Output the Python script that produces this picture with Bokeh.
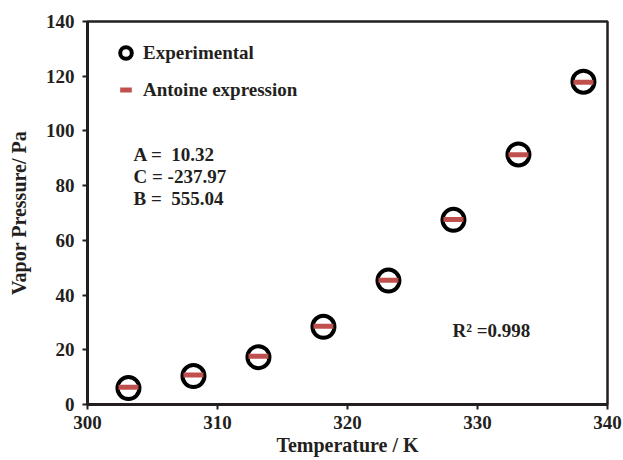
from bokeh.plotting import figure
from bokeh.models import Range1d, FixedTicker, Legend, LegendItem, Label
from bokeh.embed import file_html
from bokeh.resources import INLINE

temperature = [303.15, 308.15, 313.15, 318.15, 323.15, 328.15, 333.15, 338.15]
p_experimental = [6.0, 10.4, 17.3, 28.4, 45.3, 67.5, 91.4, 118.0]
p_antoine = [6.3, 10.8, 17.6, 28.6, 45.4, 67.6, 91.3, 117.8]
x_ticks = [300, 310, 320, 330, 340]
y_ticks = [0, 20, 40, 60, 80, 100, 120, 140]
params = ["A =\u00a0 10.32", "C = -237.97", "B =\u00a0 555.04"]
r2_text = "R\u00b2 =0.998"

FONT = "Liberation Serif"
INK = "#231f20"
RED = "#c0504d"

p = figure(width=623, height=460, output_backend="svg", toolbar_location=None,
           x_range=Range1d(300, 340), y_range=Range1d(0, 140),
           min_border_left=87, min_border_right=16, min_border_top=21, min_border_bottom=56)
p.background_fill_color = "white"
p.border_fill_color = "white"
p.grid.visible = False
p.outline_line_color = INK
p.outline_line_width = 2.5

for ax, ticks in ((p.xaxis, x_ticks), (p.yaxis, y_ticks)):
    ax.ticker = FixedTicker(ticks=ticks)
    ax.axis_line_width = 3
    ax.axis_line_color = INK
    ax.major_tick_line_width = 2
    ax.major_tick_line_color = INK
    ax.major_tick_out = 5
    ax.major_tick_in = 0
    ax.minor_tick_line_color = None
    ax.major_label_text_font = FONT
    ax.major_label_text_font_style = "bold"
    ax.major_label_text_font_size = "19px"
    ax.major_label_text_color = INK
    ax.axis_label_text_font = FONT
    ax.axis_label_text_font_style = "bold"
    ax.axis_label_text_font_size = "20px"
    ax.axis_label_text_color = INK

p.xaxis.axis_label = "Temperature / K"
p.yaxis.axis_label = "Vapor Pressure/ Pa"
p.xaxis.major_label_standoff = 6
p.yaxis.major_label_standoff = 8
p.xaxis.axis_label_standoff = 2
p.yaxis.axis_label_standoff = 13

r_exp = p.scatter(temperature, p_experimental, marker="circle", size=22,
                  fill_color="white", line_color="black", line_width=4)
r_ant = p.scatter(temperature, p_antoine, marker="dash", size=20,
                  line_color=RED, line_width=5)

legend = Legend(items=[LegendItem(label="Experimental", renderers=[r_exp]),
                       LegendItem(label="Antoine expression", renderers=[r_ant])],
                location=(24, 300))
legend.border_line_color = None
legend.background_fill_alpha = 0
legend.margin = 0
legend.padding = 0
legend.label_text_font = FONT
legend.label_text_font_style = "bold"
legend.label_text_font_size = "19px"
legend.label_text_color = INK
legend.glyph_width = 29
legend.glyph_height = 29
legend.spacing = 8
legend.label_standoff = 3
legend.label_height = 20
p.add_layout(legend, "center")

for i, t in enumerate(params):
    p.add_layout(Label(x=46, y=250 - 22 * i, x_units="screen", y_units="screen", text=t,
                       text_font=FONT, text_font_style="bold", text_font_size="19px",
                       text_color=INK, text_baseline="middle"))

p.add_layout(Label(x=365, y=74, x_units="screen", y_units="screen", text=r2_text,
                   text_font=FONT, text_font_style="bold", text_font_size="19px",
                   text_color=INK, text_baseline="middle"))

open("out.html", "w").write(file_html(p, INLINE))
